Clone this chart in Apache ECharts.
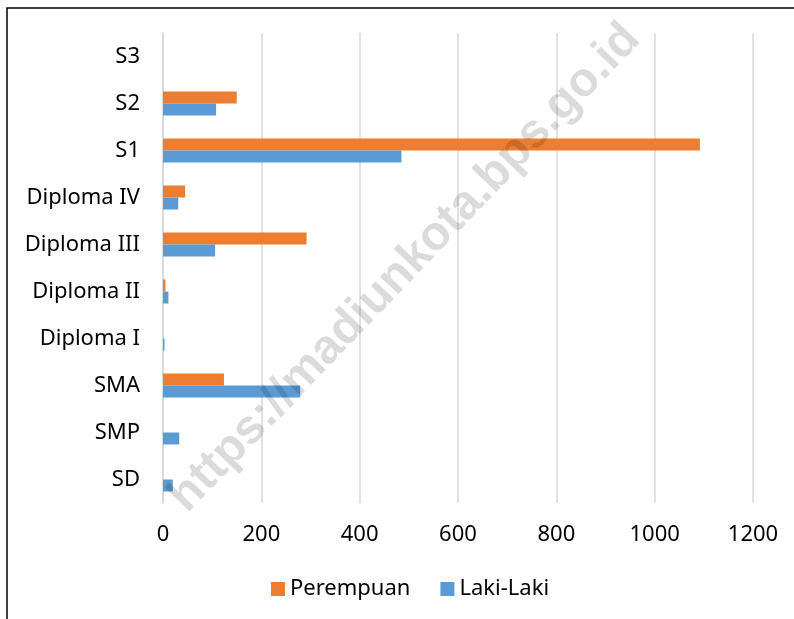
<!DOCTYPE html>
<html>
<head>
<meta charset="utf-8">
<script src="https://cdn.jsdelivr.net/npm/echarts@6/dist/echarts.min.js"></script>
<style>
  html, body { margin: 0; padding: 0; background: #fff; }
  #chart { width: 794px; height: 619px; }
</style>
</head>
<body>
<div id="chart"></div>
<script>
// kategori pendidikan, dari bawah ke atas
var categories = ['SD', 'SMP', 'SMA', 'Diploma I', 'Diploma II', 'Diploma III', 'Diploma IV', 'S1', 'S2', 'S3'];
var perempuan = [0, 0, 124, 0, 5, 292, 45, 1092, 150, 0];
var lakiLaki = [20, 33, 279, 3, 11, 106, 31, 485, 108, 0];
var xTicks = [0, 1200, 200]; // min, max, interval

var font = 'Noto Sans';
var chart = echarts.init(document.getElementById('chart'));

var option = {
  animation: false,
  grid: { // area plot
    left: 163,
    right: 41,
    top: 33,
    bottom: 116,
    containLabel: false,
    outerBoundsMode: 'none'
  },
  legend: {
    data: ['Perempuan', 'Laki-Laki'],
    left: 266,
    top: 573,
    itemWidth: 14,
    itemHeight: 14,
    itemGap: 30,
    icon: 'rect',
    textStyle: { fontFamily: font, fontSize: 22, color: '#000' }
  },
  xAxis: {
    type: 'value',
    min: xTicks[0],
    max: xTicks[1],
    interval: xTicks[2],
    axisLine: { show: false },
    axisTick: { show: false },
    splitLine: { lineStyle: { color: '#d9d9d9', width: 1.5 } },
    axisLabel: {
      fontFamily: font, fontSize: 22, color: '#000', margin: 21,
      formatter: function (v) { return String(v); }
    }
  },
  yAxis: {
    type: 'category',
    data: categories,
    axisLine: { show: true, lineStyle: { color: '#d9d9d9', width: 1.5 } },
    axisTick: { show: false },
    axisLabel: { fontFamily: font, fontSize: 22, color: '#000', margin: 23 }
  },
  series: [
    {
      name: 'Perempuan',
      type: 'bar',
      data: perempuan,
      barWidth: 12,
      barGap: '0%',
      itemStyle: { color: '#ed7d31' }
    },
    {
      name: 'Laki-Laki',
      type: 'bar',
      data: lakiLaki,
      barWidth: 12,
      barGap: '0%',
      itemStyle: { color: '#5b9bd5' }
    }
  ],
  graphic: [
    { // bingkai
      type: 'polyline',
      shape: { points: [[7, 619], [7, 8], [794, 8]] },
      style: { stroke: '#000', lineWidth: 1.5, fill: null },
      z: 100
    },
    { // watermark
      type: 'text',
      x: 405,
      y: 268,
      rotation: Math.PI / 4 + 0.02,
      style: {
        text: 'https://madiunkota.bps.go.id',
        font: 'bold 48px "Liberation Sans", Arial, sans-serif',
        fill: 'rgba(0,0,0,0.14)',
        align: 'center',
        verticalAlign: 'middle'
      },
      z: 100
    }
  ]
};

chart.setOption(option);
</script>
</body>
</html>
